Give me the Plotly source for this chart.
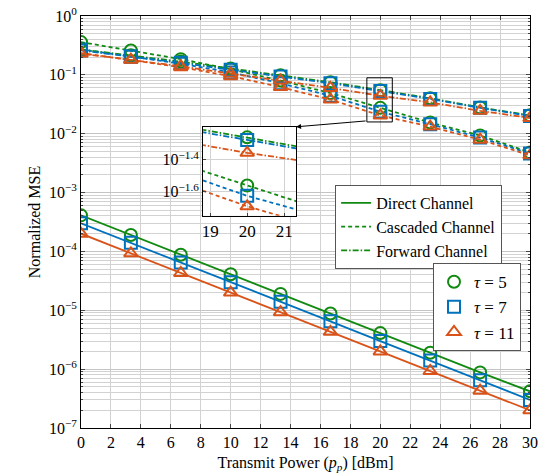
import plotly.graph_objects as go

# ---------------- data ----------------
power_dbm = [0, 3.333, 6.667, 10, 13.333, 16.667, 20, 23.333, 26.667, 30]
taus = [5, 7, 11]

direct = {
    5:  [4.1e-4, 1.9e-4, 8.8e-5, 4.1e-5, 1.9e-5, 8.8e-6, 4.1e-6, 1.9e-6, 8.8e-7, 4.2e-7],
    7:  [3.0e-4, 1.4e-4, 6.5e-5, 3.0e-5, 1.4e-5, 6.5e-6, 3.0e-6, 1.4e-6, 6.5e-7, 3.0e-7],
    11: [2.0e-4, 9.3e-5, 4.3e-5, 2.0e-5, 9.3e-6, 4.3e-6, 2.0e-6, 9.3e-7, 4.3e-7, 2.0e-7],
}
cascaded = {
    5:  [0.36, 0.26, 0.185, 0.125, 0.080, 0.049, 0.0275, 0.0155, 0.0093, 0.0048],
    7:  [0.27, 0.205, 0.155, 0.110, 0.072, 0.044, 0.0237, 0.0145, 0.0086, 0.0046],
    11: [0.235, 0.180, 0.135, 0.095, 0.062, 0.038, 0.0204, 0.0132, 0.0079, 0.0043],
}
forward = {
    5:  [0.27, 0.215, 0.168, 0.128, 0.098, 0.075, 0.055, 0.040, 0.028, 0.0205],
    7:  [0.26, 0.205, 0.160, 0.122, 0.094, 0.072, 0.053, 0.039, 0.0275, 0.020],
    11: [0.23, 0.180, 0.140, 0.105, 0.080, 0.060, 0.044, 0.034, 0.0245, 0.0185],
}

x_ticks = list(range(0, 31, 2))
y_exps = list(range(0, -8, -1))
inset_x_ticks = [19, 20, 21]
inset_y_exps = [-1.4, -1.6]

colors = {5: "#118a11", 7: "#0072BD", 11: "#D95319"}
symbols = {5: "circle-open", 7: "square-open", 11: "triangle-up-open"}
dashes = {"direct": "solid", "cascaded": "4px,3px", "forward": "6px,2px,1.5px,2px"}
series = {"direct": direct, "cascaded": cascaded, "forward": forward}

FONT = "'Liberation Serif', 'Times New Roman', Times, serif"
fig = go.Figure()

for name, data in series.items():
    for t in taus:
        for xa, ya in (("x", "y"), ("x2", "y2")):
            if name == "direct" and xa == "x2":
                continue
            fig.add_trace(go.Scatter(
                x=power_dbm, y=data[t], xaxis=xa, yaxis=ya,
                mode="lines+markers", showlegend=False,
                line=dict(color=colors[t], width=1.8, dash=dashes[name]),
                marker=dict(symbol=symbols[t], size=12, color=colors[t],
                            line=dict(width=2, color=colors[t])),
            ))

# legend 1: line styles
for label, key in (("Direct Channel", "direct"), ("Cascaded Channel", "cascaded"),
                   ("Forward Channel", "forward")):
    fig.add_trace(go.Scatter(x=[None], y=[None], mode="lines", name=label,
                             line=dict(color=colors[5], width=1.8, dash=dashes[key]),
                             legend="legend"))
# legend 2: markers
for t in taus:
    fig.add_trace(go.Scatter(x=[None], y=[None], mode="markers",
                             name=f"<i>τ</i> = {t}",
                             marker=dict(symbol=symbols[t], size=12, color=colors[t],
                                         line=dict(width=2, color=colors[t])),
                             legend="legend2"))

grid = "#d2d2d2"
minor_vals = [k * 10 ** e for e in range(-7, 0) for k in range(2, 10)]

fig.update_layout(
    width=542, height=474, autosize=False,
    margin=dict(l=81, r=12, t=16, b=46, autoexpand=False),
    paper_bgcolor="white", plot_bgcolor="white",
    font=dict(family=FONT, size=15, color="black"),
    xaxis=dict(
        range=[0, 30], tickvals=x_ticks, ticks="inside", ticklen=4,
        showgrid=True, gridcolor=grid, gridwidth=1, automargin=False,
        showline=True, linecolor="black", linewidth=1, mirror="ticks",
        zeroline=False, tickfont=dict(size=16, family=FONT),
        title=dict(text="Transmit Power (<i>p</i><sub><i>p</i></sub>) [dBm]",
                   font=dict(size=16, family=FONT), standoff=6),
    ),
    yaxis=dict(
        type="log", range=[-7, 0],
        tickvals=[10 ** e for e in y_exps],
        ticktext=[f"10<sup>{'−' if e < 0 else ''}{abs(e)}</sup>" for e in y_exps],
        ticks="inside", ticklen=4, automargin=False,
        showgrid=True, gridcolor="#c4c4c4", gridwidth=1,
        minor=dict(tickvals=minor_vals, showgrid=True, gridcolor=grid,
                   ticks="inside", ticklen=2),
        showline=True, linecolor="black", linewidth=1, mirror="ticks",
        zeroline=False, tickfont=dict(size=16, family=FONT),
        title=dict(text="Normalized MSE", font=dict(size=16, family=FONT), standoff=4),
    ),
    xaxis2=dict(
        domain=[0.272, 0.479], anchor="y2", range=[18.81, 21.32],
        tickvals=inset_x_ticks, ticks="inside", ticklen=3, automargin=False,
        showgrid=True, gridcolor=grid,
        showline=True, linecolor="black", linewidth=1.2, mirror=True,
        zeroline=False, tickfont=dict(size=17, family=FONT),
    ),
    yaxis2=dict(
        domain=[0.515, 0.731], anchor="x2", type="log", range=[-1.75, -1.194],
        tickvals=[10 ** e for e in inset_y_exps],
        ticktext=[f"10<sup>−{abs(e)}</sup>" for e in inset_y_exps],
        ticks="inside", ticklen=3, automargin=False,
        showgrid=True, gridcolor=grid,
        showline=True, linecolor="black", linewidth=1.2, mirror=True,
        zeroline=False, tickfont=dict(size=16, family=FONT),
    ),
    legend=dict(
        x=0.566, y=0.59, xanchor="left", yanchor="top",
        bgcolor="white", bordercolor="#555555", borderwidth=1,
        font=dict(size=16, family=FONT), tracegroupgap=0,
        itemwidth=30,
    ),
    legend2=dict(
        x=0.784, y=0.40, xanchor="left", yanchor="top",
        bgcolor="white", bordercolor="#555555", borderwidth=1,
        font=dict(size=17, family=FONT), itemwidth=30,
    ),
    shapes=[
        dict(type="rect", xref="x", yref="y", x0=19.1, x1=20.8,
             y0=10 ** -1.80, y1=10 ** -1.05,
             line=dict(color="black", width=1)),
    ],
    annotations=[
        dict(x=0.479, y=0.731, xref="paper", yref="paper",
             ax=71, ay=-6, axref="pixel", ayref="pixel",
             showarrow=True, arrowhead=2, arrowsize=1, arrowwidth=1,
             arrowcolor="black", text=""),
    ],
)

fig.write_html("out.html")
